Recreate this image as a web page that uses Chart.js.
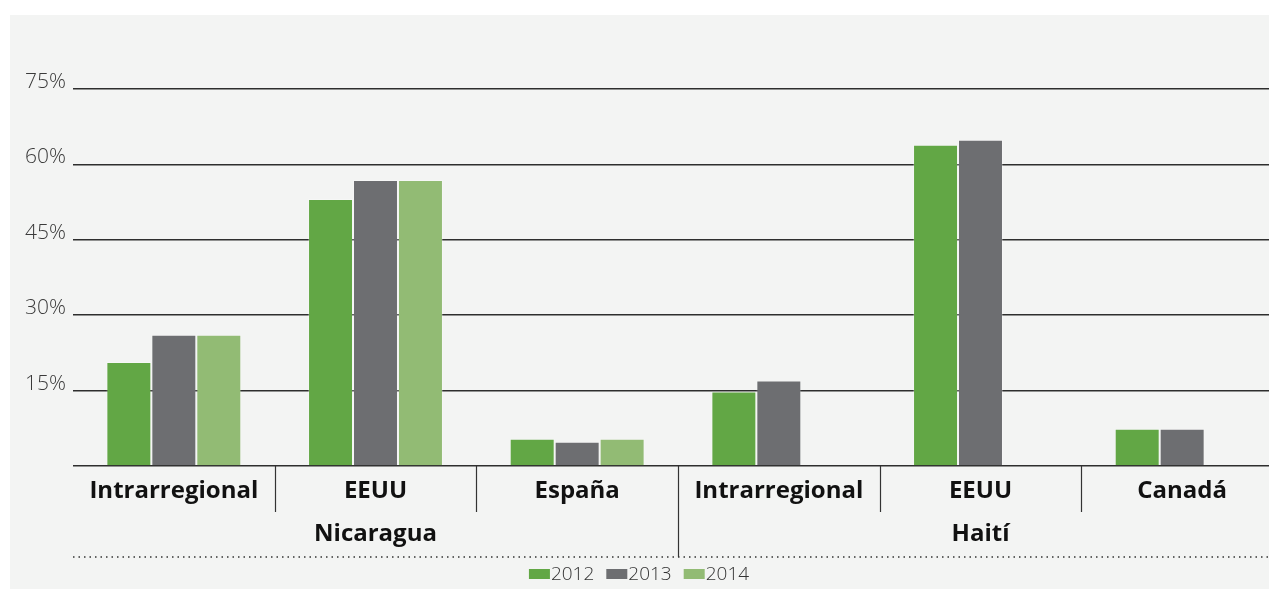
<!DOCTYPE html>
<html>
<head>
    <meta charset="utf-8">
    <title></title>
    <script src="https://cdn.jsdelivr.net/npm/chart.js@4.4.0/dist/chart.umd.min.js"></script>
    <style>
        html, body { margin: 0; padding: 0; width: 1269px; height: 589px; overflow: hidden; background: #fff; }
        #panel { position: absolute; left: 10px; top: 15px; width: 1259px; height: 574px; background: #f3f4f3; }
        #wrap { position: absolute; left: 0; top: 0; width: 1290px; height: 589px; }
    </style>
</head>
<body>
    <div id="panel"></div>
    <div id="wrap"><canvas id="myChart" width="1290" height="589"></canvas></div>
    <script>
        var categories = ['Intrarregional', 'EEUU', 'España', 'Intrarregional', 'EEUU', 'Canadá'];
        var countries = ['Nicaragua', 'Haití'];
        var countryOf = [0, 0, 0, 1, 1, 1];
        var years = ['2012', '2013', '2014'];
        var values2012 = [20.7, 53.1, 5.4, 14.8, 63.9, 7.4];
        var values2013 = [26.1, 56.9, 4.8, 17.0, 64.9, 7.4];
        var values2014 = [26.1, 56.9, 5.4, null, null, null];
        var yTicks = [0, 15, 30, 45, 60, 75];
        var colors = ['#62a745', '#6d6e71', '#92bb74'];

        var lightFont = '"Open Sans", "DejaVu Sans", sans-serif';

        // group labels, separators, dotted line and legend under the x axis
        var groupPlugin = {
            id: 'groups',
            afterDraw: function(chart) {
                var ctx = chart.ctx;
                var x = chart.scales.x;
                var top = x.top;
                var half = (x.getPixelForValue(1) - x.getPixelForValue(0)) / 2;
                ctx.save();

                // dotted line
                ctx.strokeStyle = '#333';
                ctx.lineWidth = 1.5;
                ctx.setLineDash([1.5, 4]);
                ctx.beginPath();
                ctx.moveTo(x.left, top + 91);
                ctx.lineTo(x.right, top + 91);
                ctx.stroke();
                ctx.setLineDash([]);

                // separators
                ctx.lineWidth = 1.2;
                ctx.strokeStyle = '#333';
                for (var i = 1; i < categories.length; i++) {
                    var px = Math.round(x.getPixelForValue(i) - half) + 0.5;
                    var newGroup = countryOf[i] !== countryOf[i - 1];
                    ctx.beginPath();
                    ctx.moveTo(px, top);
                    ctx.lineTo(px, top + (newGroup ? 91 : 46));
                    ctx.stroke();
                }

                // country labels
                ctx.fillStyle = '#111';
                ctx.font = 'bold 24px ' + lightFont;
                ctx.textAlign = 'center';
                ctx.textBaseline = 'middle';
                countries.forEach(function(name, g) {
                    var idx = [];
                    countryOf.forEach(function(c, k) { if (c === g) idx.push(k); });
                    var cx = (x.getPixelForValue(idx[0]) + x.getPixelForValue(idx[idx.length - 1])) / 2;
                    ctx.fillText(name, cx, top + 68);
                });

                // legend
                ctx.font = '300 19px ' + lightFont;
                ctx.textAlign = 'left';
                var boxW = 21, boxH = 10, gap = 1, spacing = 12;
                var widths = years.map(function(y) { return boxW + gap + ctx.measureText(y).width; });
                var total = widths.reduce(function(a, b) { return a + b; }, 0) + spacing * (years.length - 1);
                var lx = 639 - total / 2;
                var ly = top + 108;
                years.forEach(function(y, k) {
                    ctx.fillStyle = colors[k];
                    ctx.fillRect(lx, ly - boxH / 2, boxW, boxH);
                    ctx.fillStyle = '#333';
                    ctx.fillText(y, lx + boxW + gap, ly + 1);
                    lx += widths[k] + spacing;
                });
                ctx.restore();
            }
        };

        var chart = new Chart(document.getElementById('myChart'), {
            type: 'bar',
            data: {
                labels: categories,
                datasets: [
                    { label: years[0], data: values2012, backgroundColor: colors[0] },
                    { label: years[1], data: values2013, backgroundColor: colors[1] },
                    { label: years[2], data: values2014, backgroundColor: colors[2] }
                ]
            },
            options: {
                responsive: false,
                animation: false,
                devicePixelRatio: 1,
                layout: { padding: { top: 89, right: 7, left: 0, bottom: 0 } },
                datasets: {
                    bar: {
                        barPercentage: 1,
                        categoryPercentage: 0.669,
                        borderWidth: 1,
                        borderColor: 'rgba(255,255,255,0.25)'
                    }
                },
                plugins: {
                    legend: { display: false },
                    tooltip: { enabled: false }
                },
                scales: {
                    x: {
                        grid: { display: false },
                        border: { display: false },
                        ticks: {
                            autoSkip: false,
                            maxRotation: 0,
                            padding: 3,
                            color: '#111',
                            font: { family: lightFont, size: 24, weight: 'bold' }
                        },
                        afterFit: function(scale) { scale.height = 123; }
                    },
                    y: {
                        min: 0,
                        max: 75,
                        afterBuildTicks: function(scale) {
                            scale.ticks = yTicks.map(function(v) { return { value: v }; });
                        },
                        afterFit: function(scale) { scale.width = 73; },
                        grid: { color: '#2e2e2e', lineWidth: 1.5, drawTicks: false },
                        border: { display: false },
                        ticks: {
                            padding: 7,
                            labelOffset: -7,
                            color: '#3a3a3a',
                            font: { family: lightFont, size: 21, weight: '300' },
                            callback: function(v) { return v === 0 ? '' : v + '%'; }
                        }
                    }
                }
            },
            plugins: [groupPlugin]
        });
    </script>
</body>
</html>
